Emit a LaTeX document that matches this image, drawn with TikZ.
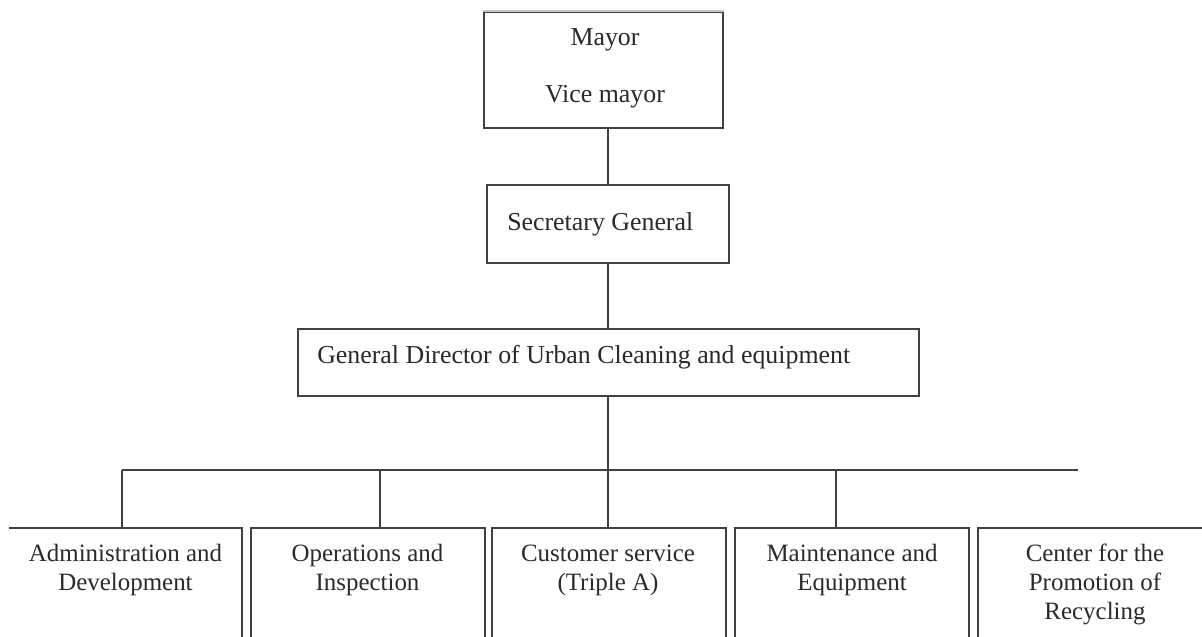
\documentclass[tikz,border=0pt]{standalone}
\usepackage{fontspec}
\setmainfont{Liberation Serif}
\usetikzlibrary{fit,calc}
\definecolor{ink}{HTML}{2A2A2A}
\definecolor{rule}{HTML}{404040}
\begin{document}
\begin{tikzpicture}[x=0.75pt,y=-0.75pt,
  orgbox/.style={draw=rule,line width=1.3pt,inner sep=0pt,fill=none},
  link/.style={draw=rule,line width=1.1pt},
  lbl/.style={text=ink,inner sep=0pt,font=\fontsize{19.4}{22}\selectfont},
  unit/.style={text=ink,inner sep=0pt,align=center,font=\fontsize{18.7}{21.4}\selectfont}]
\useasboundingbox (0,0) rectangle (1202,636);
\fill[white] (0,0) rectangle (1202,636);
\begin{scope}
\clip (9,0) rectangle (1202,636);
% upper levels
\node[orgbox,fit={(484,12) (723,128)}] (mayor) {};
\draw[gray!45,line width=1.1pt] (mayor.north west) -- (mayor.north east);
\node[orgbox,fit={(487,185) (729,263)}] (sec) {};
\node[orgbox,fit={(298,329) (919,396)}] (gd) {};
% departments
\node[orgbox,fit={(8,528) (242,660)}] (b1) {};
\node[orgbox,fit={(251,528) (485,660)}] (b2) {};
\node[orgbox,fit={(492,528) (726,660)}] (b3) {};
\node[orgbox,fit={(735,528) (969,660)}] (b4) {};
\node[orgbox,fit={(978,528) (1212,660)}] (b5) {};
% texts (multi-line labels are placed by the baseline of their last line)
\node[lbl,anchor=base] (tmayor) at (605,45) {Mayor};
\node[lbl,anchor=base] (tvice) at (605,102) {Vice mayor};
\node[lbl,anchor=base west] (tsec) at (507,230) {Secretary General};
\node[lbl,anchor=base west] (tgd) at (317,363) {General Director of Urban Cleaning and equipment};
\node[unit,anchor=base] (t1) at (125.5,590.5) {Administration and\\Development};
\node[unit,anchor=base] (t2) at (367.5,590.5) {Operations and\\Inspection};
\node[unit,anchor=base] (t3) at (608,590.5) {Customer service\\(Triple A)};
\node[unit,anchor=base] (t4) at (852,590.5) {Maintenance and\\Equipment};
\node[unit,anchor=base] (t5) at (1095,619) {Center for the\\Promotion of\\Recycling};
% connectors
\coordinate (busL) at (122,470);
\coordinate (busR) at (1078,470);
\coordinate (d2) at (380,470);
\coordinate (d4) at (836,470);
\draw[link] (sec.north) -- (sec.north |- mayor.south);
\draw[link] (gd.north -| sec.south) -- (sec.south);
\draw[link] (gd.south -| sec.south) -- (sec.south |- b3.north);
\draw[link] (busL) -- (busR);
\draw[link] (busL) -- (busL |- b1.north);
\draw[link] (d2) -- (d2 |- b2.north);
\draw[link] (d4) -- (d4 |- b4.north);
\end{scope}
\end{tikzpicture}
\end{document}
